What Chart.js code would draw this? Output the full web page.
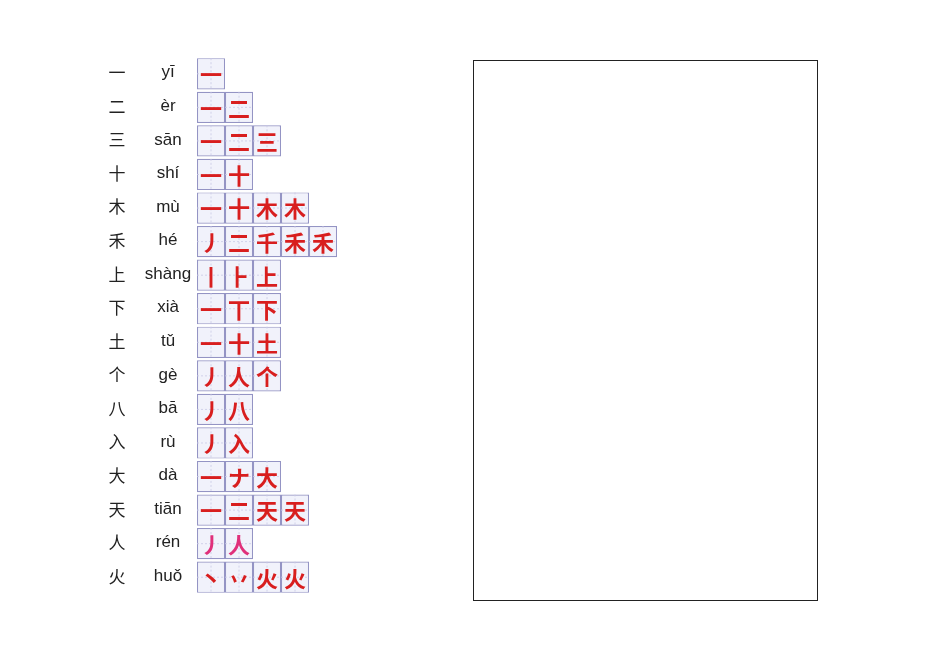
<!DOCTYPE html>
<html><head><meta charset="utf-8">
<script src="https://cdn.jsdelivr.net/npm/chart.js@4"></script>
<style>html,body{margin:0;padding:0;background:#fff}#w{width:950px;height:672px}</style>
</head><body><div id="w"><canvas id="c"></canvas></div>
<script>
const chars = ['一','二','三','十','木','禾','上','下','土','个','八','入','大','天','人','火'];
const pinyin = ['yī','èr','sān','shí','mù','hé','shàng','xià','tǔ','gè','bā','rù','dà','tiān','rén','huǒ'];
const strokeCounts = [1,2,3,2,4,5,3,3,3,3,2,2,3,4,2,4];
const strokeSteps = [
 ['一'],['一','二'],['一','二','三'],['一','十'],['一','十','木','木'],
 ['丿','二','千','禾','禾'],['丨','⺊','上'],['一','丅','下'],['一','十','土'],
 ['丿','人','个'],['丿','八'],['丿','入'],['一','ナ','大'],['一','二','天','天'],
 ['丿','人'],['丶','丷','火','火']
];
const maxStrokes = 5;
const datasets = [];
for (let k = 1; k <= maxStrokes; k++) {
  datasets.push({
    label: 'stroke ' + k,
    data: strokeCounts.map(n => n >= k ? 1 : null),
    backgroundColor: '#f1f2fb',
    borderColor: '#9494c4',
    borderWidth: 1.2,
    borderSkipped: false,
    barPercentage: 1, categoryPercentage: 0.93
  });
}
const deco = {
  id: 'deco',
  afterDatasetsDraw(chart) {
    const ctx = chart.ctx, y = chart.scales.y;
    ctx.save();
    chars.forEach((ch, i) => {
      const py = y.getPixelForValue(i);
      ctx.fillStyle = '#222';
      ctx.textBaseline = 'middle'; ctx.textAlign = 'center';
      ctx.font = '17px "Noto Sans CJK SC"';
      ctx.fillText(ch, 117, py - 1);
      ctx.font = '17px "Liberation Sans"';
      ctx.fillText(pinyin[i], 168, py - 1);
    });
    chart.data.datasets.forEach((ds, k) => {
      chart.getDatasetMeta(k).data.forEach((bar, i) => {
        if (ds.data[i] == null) return;
        const {x, y: by, base, height} = bar.getProps(['x','y','base','height']);
        const l = Math.min(x, base), r = Math.max(x, base), t = by - height/2, b = by + height/2;
        const cx = (l + r) / 2, cy = (t + b) / 2;
        ctx.strokeStyle = '#c9c9e6'; ctx.lineWidth = 0.8; ctx.setLineDash([2,2]);
        ctx.beginPath(); ctx.moveTo(cx, t); ctx.lineTo(cx, b); ctx.moveTo(l, cy); ctx.lineTo(r, cy); ctx.stroke();
        ctx.setLineDash([]);
        ctx.fillStyle = i === 14 ? '#e0307a' : '#d81e1e';
        ctx.font = 'bold 22px "Noto Sans CJK SC"';
        ctx.textAlign = 'center'; ctx.textBaseline = 'middle';
        ctx.fillText(strokeSteps[i][k], cx, cy + 1);
      });
    });
    ctx.strokeStyle = '#222'; ctx.lineWidth = 1;
    ctx.strokeRect(473.5, 60.5, 344, 540);
    ctx.restore();
  }
};
new Chart(document.getElementById('c'), {
  type: 'bar',
  data: { labels: chars, datasets },
  options: {
    indexAxis: 'y', responsive: true, maintainAspectRatio: false, animation: false,
    layout: { padding: { left: 197, right: 613, top: 57, bottom: 78 } },
    plugins: { legend: { display: false }, tooltip: { enabled: false } },
    scales: {
      x: { display: false, stacked: true, min: 0, max: 5 },
      y: { display: false, stacked: true }
    }
  },
  plugins: [deco]
});
</script></body></html>
